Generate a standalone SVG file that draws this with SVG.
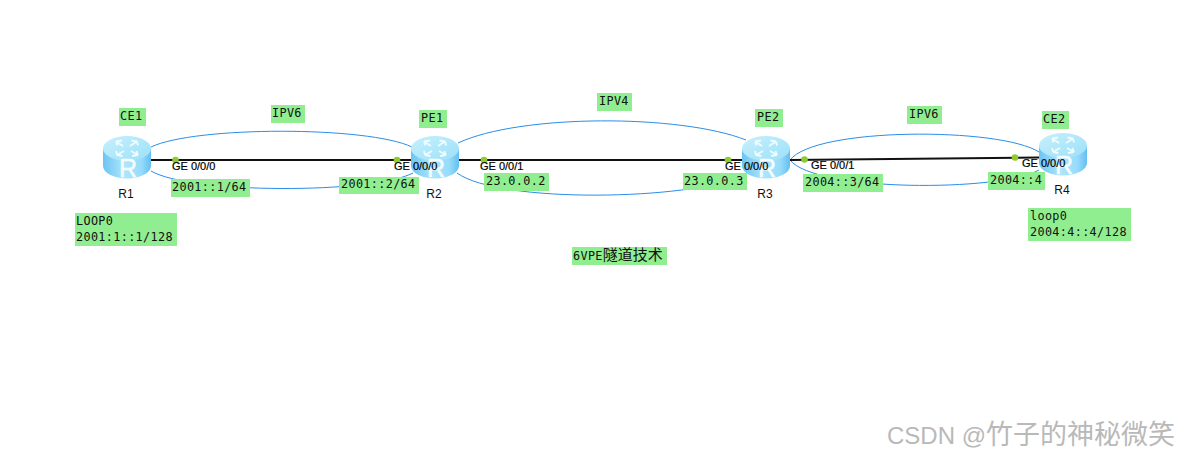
<svg xmlns="http://www.w3.org/2000/svg" width="1189" height="458" viewBox="0 0 1189 458">
<style>
.lb{fill:#90ee90}
.m{font-family:"DejaVu Sans Mono","Liberation Mono","Noto Sans CJK SC",monospace;font-size:11.800px;letter-spacing:.35px;fill:#111}
.ge{font-family:"Liberation Sans",Arial,sans-serif;font-size:11px;fill:#000;stroke:#000;stroke-width:.2px}
.n{font-family:"Liberation Sans",Arial,sans-serif;font-size:12px;fill:#111;text-anchor:middle}
.c{fill:none;stroke:#2a8ee8;stroke-width:1}
.k{fill:none;stroke:#111;stroke-width:2}
.d{fill:#8ccc30}
.rr{font-family:"Liberation Sans",Arial,sans-serif;font-size:25px;fill:#f4fcff;stroke:#f4fcff;stroke-width:.5px;text-anchor:middle}
</style>
<defs>
<linearGradient id="b" x1="0" x2="1" y1="0" y2="0">
<stop offset="0" stop-color="#6cc4f4"/><stop offset=".45" stop-color="#aee6fc"/><stop offset=".8" stop-color="#96dcfa"/><stop offset="1" stop-color="#64bef2"/>
</linearGradient>
<linearGradient id="t" x1="0" x2="1" y1="0" y2="1">
<stop offset="0" stop-color="#c6f0fd"/><stop offset="1" stop-color="#9ce0f8"/>
</linearGradient>
<g id="router">
<path d="M0 12.500V30A24 12.500 0 0 0 48 30V12.500Z" fill="url(#b)"/>
<ellipse cx="24" cy="12.500" rx="24" ry="12.500" fill="url(#t)"/>
<g fill="none" stroke="#f0fcff" stroke-width="1.800">
<path d="M13 5.500L20 10M13 5.500L19 4.500M13 5.500L14.500 9.500"/>
<path d="M35 19L28 15M35 19L29 20M35 19L33.500 15"/>
<path d="M27 10L34 5.500M34 5.500L28.500 4.500M34 5.500L35 9.500"/>
<path d="M21 15L14 19M14 19L19.500 20M14 19L13 15"/>
</g>
<text class="rr" x="25" y="41">R</text>
</g>
</defs>
<rect width="1189" height="458" fill="#fff"/>
<g id="connectors">
<path class="c" d="M151 147C195 126 368 126 412 147"/>
<path class="c" d="M151 171C190 194 372 194 413 173"/>
<path class="c" d="M458 143C520 114 680 114 746 140"/>
<path class="c" d="M457 173C500 204 690 200 742 176"/>
<path class="c" d="M790 160C815 127 1000 127 1039 152"/>
<path class="c" d="M790 160C815 192 1000 192 1039 170"/>
<path class="k" d="M151 160H412"/>
<path class="k" d="M459 160H743"/>
<path class="k" d="M790 160L1039 157.500"/>
</g>
<g id="R1"><use href="#router" x="103" y="136"/><text class="n" x="126" y="198">R1</text></g>
<g id="R2"><use href="#router" x="411" y="136"/><text class="n" x="434" y="198">R2</text></g>
<g id="R3"><use href="#router" x="742" y="136"/><text class="n" x="765" y="198">R3</text></g>
<g id="R4"><use href="#router" x="1039" y="133"/><text class="n" x="1062" y="194">R4</text></g>
<g id="ports">
<circle class="d" cx="175.500" cy="160" r="3.300"/><circle class="d" cx="397" cy="160" r="3.300"/>
<circle class="d" cx="484" cy="160" r="3.300"/><circle class="d" cx="728" cy="160" r="3.300"/>
<circle class="d" cx="804.500" cy="159.500" r="3.300"/><circle class="d" cx="1015" cy="157.500" r="3.300"/>
<text class="ge" x="172" y="170">GE 0/0/0</text>
<text class="ge" x="394" y="170">GE 0/0/0</text>
<text class="ge" x="480" y="170">GE 0/0/1</text>
<text class="ge" x="725" y="170">GE 0/0/0</text>
<text class="ge" x="811" y="169">GE 0/0/1</text>
<text class="ge" x="1022" y="167">GE 0/0/0</text>
</g>
<g id="labels">
<g id="l-ce1"><rect class="lb" x="119" y="108" width="27" height="18"/><text class="m" x="120" y="120">CE1</text></g>
<g id="l-ipv6a"><rect class="lb" x="271" y="105" width="34" height="18"/><text class="m" x="272" y="117">IPV6</text></g>
<g id="l-pe1"><rect class="lb" x="419" y="110" width="28" height="18"/><text class="m" x="421" y="122">PE1</text></g>
<g id="l-a1"><rect class="lb" x="171" y="179" width="79" height="18"/><text class="m" x="172" y="191">2001::1/64</text></g>
<g id="l-a2"><rect class="lb" x="339" y="177" width="80" height="17"/><text class="m" x="341" y="188">2001::2/64</text></g>
<g id="l-loop0"><rect class="lb" x="75" y="213" width="102" height="33"/><text class="m" x="76" y="225">LOOP0</text><text class="m" x="76" y="241">2001:1::1/128</text></g>
<g id="l-ipv4"><rect class="lb" x="597" y="93" width="35" height="18"/><text class="m" x="599" y="105">IPV4</text></g>
<g id="l-pe2"><rect class="lb" x="755" y="109" width="28" height="18"/><text class="m" x="757" y="121">PE2</text></g>
<g id="l-b2"><rect class="lb" x="484" y="173" width="65" height="18"/><text class="m" x="486" y="185">23.0.0.2</text></g>
<g id="l-b3"><rect class="lb" x="683" y="173" width="64" height="17"/><text class="m" x="684" y="185">23.0.0.3</text></g>
<g id="l-title"><rect class="lb" x="572" y="247" width="95" height="18"/><text class="m" x="573" y="260">6VPE<tspan font-family="'Noto Sans CJK SC',sans-serif" font-size="15" letter-spacing="0">隧道技术</tspan></text></g>
<g id="l-ipv6b"><rect class="lb" x="907" y="106" width="35" height="18"/><text class="m" x="909" y="118">IPV6</text></g>
<g id="l-ce2"><rect class="lb" x="1042" y="111" width="27" height="18"/><text class="m" x="1043" y="123">CE2</text></g>
<g id="l-c3"><rect class="lb" x="803" y="174" width="80" height="18"/><text class="m" x="805" y="186">2004::3/64</text></g>
<g id="l-c4"><rect class="lb" x="988" y="172" width="57" height="18"/><text class="m" x="990" y="184">2004::4</text></g>
<g id="l-loop4"><rect class="lb" x="1028" y="208" width="103" height="33"/><text class="m" x="1030" y="220">loop0</text><text class="m" x="1030" y="236">2004:4::4/128</text></g>
</g>
<text id="watermark" x="887" y="444" font-family="'Liberation Sans','Noto Sans CJK SC',sans-serif" font-size="24" fill="#b9b9b9">CSDN @<tspan font-family="'Noto Sans CJK SC',sans-serif" font-size="27">竹子的神秘微笑</tspan></text>
</svg>
